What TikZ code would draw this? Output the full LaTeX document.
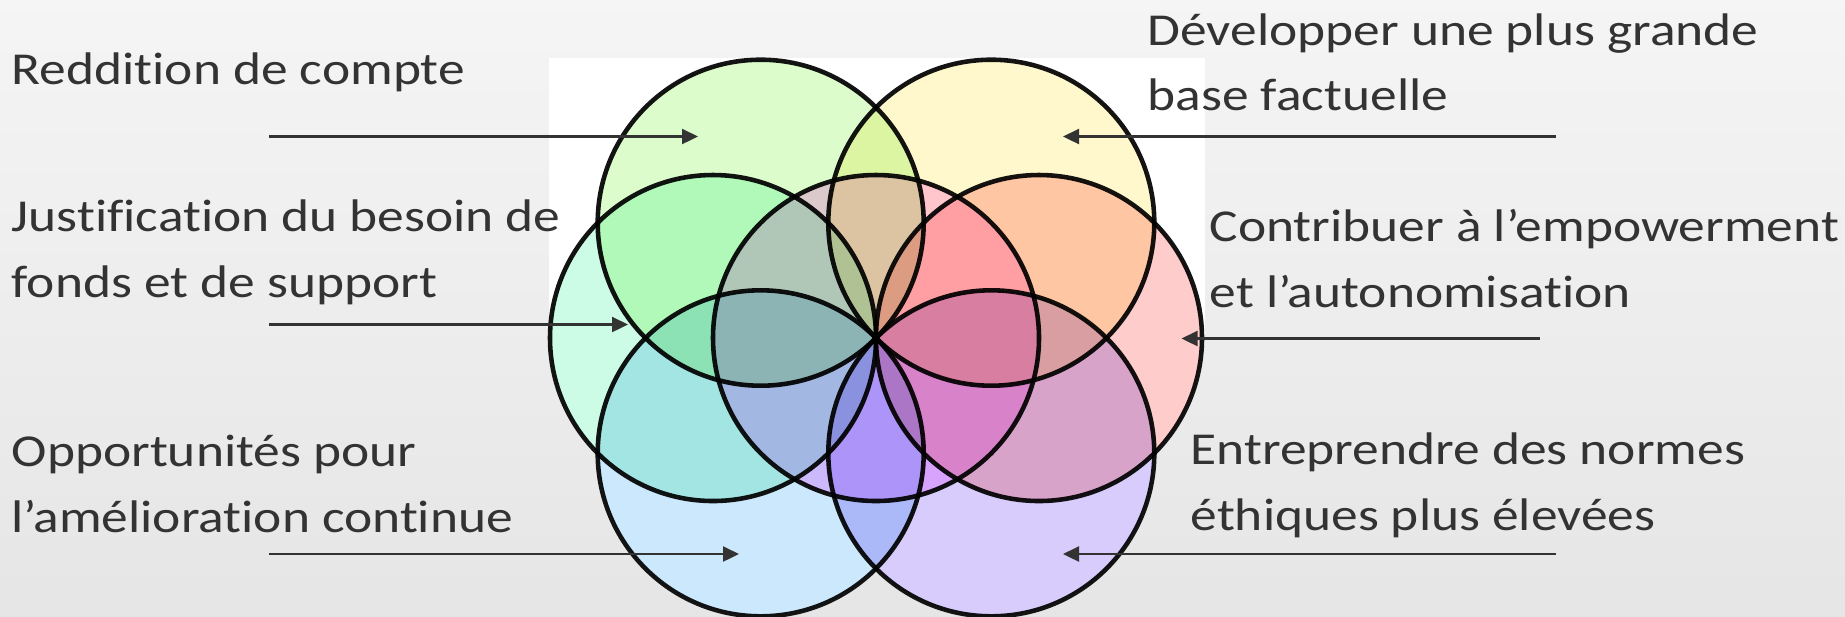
\documentclass[tikz,border=0pt]{standalone}
\usepackage{fontspec}
\setmainfont{Carlito}[FakeStretch=1.17, Ligatures=CommonOff]
\usetikzlibrary{arrows.meta}

\definecolor{testo}{HTML}{333333}
\definecolor{verde}{HTML}{DCFCCC}
\definecolor{giallo}{HTML}{FFF8CC}
\definecolor{menta}{HTML}{CCFCE6}
\definecolor{rosa}{HTML}{FFCCCC}
\definecolor{azzurro}{HTML}{CCE8FC}
\definecolor{lilla}{HTML}{D8CCFC}
\definecolor{centro}{HTML}{FFCCFF}

\begin{document}
\begin{tikzpicture}[x=0.1mm, y=-0.1mm,
    petalo/.style={circle, draw=black!92, line width=1.3pt, minimum size=32.6mm, inner sep=0pt, blend mode=multiply},
    etichetta/.style={anchor=base west, inner sep=0pt, align=left, text=testo, font=\fontsize{13}{18.6}\selectfont},
    freccia/.style={draw=testo, line width=0.65pt, -{Triangle[length=1.6mm, width=1.5mm]}}]
    % Sfondo
    \shade[top color=black!4, bottom color=black!10] (0,0) rectangle (1845,616);
    \useasboundingbox (0,0) rectangle (1845,616);
    \fill[white] (549,58) rectangle (1205,337);

    % Cerchi
    \begin{scope}[transparency group]
        \node[petalo, fill=verde] (c_verde) at (760.7,222.7) {};
        \node[petalo, fill=giallo] (c_giallo) at (991.3,222.7) {};
        \node[petalo, fill=menta] (c_menta) at (713,338) {};
        \node[petalo, fill=rosa] (c_rosa) at (1039,338) {};
        \node[petalo, fill=azzurro] (c_azzurro) at (760.7,453.3) {};
        \node[petalo, fill=lilla] (c_lilla) at (991.3,453.3) {};
        \node[petalo, fill=centro] (c_centro) at (876,338) {};
    \end{scope}

    % Testi a sinistra (base dell'ultima riga)
    \node[etichetta] (t_reddition) at (11,84.5) {Reddition de compte};
    \node[etichetta] (t_justification) at (11,297) {Justification du besoin de\\fonds et de support};
    \node[etichetta] (t_opportunites) at (11,532) {Opportunités pour\\l’amélioration continue};

    % Testi a destra
    \node[etichetta] (t_developper) at (1147,110.8) {Développer une plus grande\\base factuelle};
    \node[etichetta] (t_contribuer) at (1209,307) {Contribuer à l’empowerment\\et l’autonomisation};
    \node[etichetta] (t_entreprendre) at (1190,530) {Entreprendre des normes\\éthiques plus élevées};

    % Frecce
    \coordinate (f1_da) at (269,136.5);  \coordinate (f1_a) at (698,136.5);
    \coordinate (f2_da) at (269,324.5);  \coordinate (f2_a) at (628,324.5);
    \coordinate (f3_da) at (269,554);    \coordinate (f3_a) at (739,554);
    \coordinate (f4_da) at (1556,136.5); \coordinate (f4_a) at (1063,136.5);
    \coordinate (f5_da) at (1540,338.5); \coordinate (f5_a) at (1181.5,338.5);
    \coordinate (f6_da) at (1556,554);   \coordinate (f6_a) at (1063,554);
    \draw[freccia] (f1_da) -- (f1_a);
    \draw[freccia] (f2_da) -- (f2_a);
    \draw[freccia] (f3_da) -- (f3_a);
    \draw[freccia] (f4_da) -- (f4_a);
    \draw[freccia] (f5_da) -- (f5_a);
    \draw[freccia] (f6_da) -- (f6_a);
\end{tikzpicture}
\end{document}
